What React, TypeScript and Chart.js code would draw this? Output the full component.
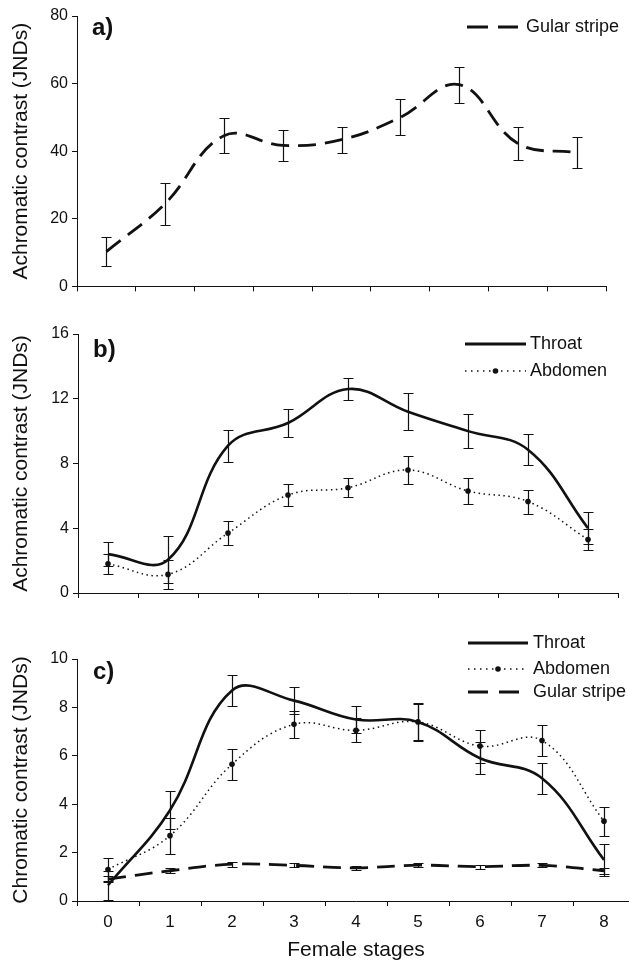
import React, { useEffect, useRef } from 'react';
import { Chart, registerables } from 'chart.js';

Chart.register(...registerables);

// ---------- data ----------
const stages = ['0', '1', '2', '3', '4', '5', '6', '7', '8'];

// a) achromatic contrast, gular stripe
const gularAchroMean = [10.3, 24.5, 44.6, 41.7, 43.4, 50.0, 59.7, 42.3, 39.6];
const gularAchroErr = [4.2, 6.2, 5.2, 4.7, 3.9, 5.3, 5.3, 4.9, 4.7];

// b) achromatic contrast, throat & abdomen
const throatAchroMean = [2.4, 2.05, 9.1, 10.5, 12.6, 11.2, 10.0, 8.85, 4.0];
const throatAchroErr = [0.75, 1.45, 1.0, 0.87, 0.7, 1.15, 1.05, 0.97, 1.0];
const abdomenAchroMean = [1.8, 1.15, 3.7, 6.05, 6.5, 7.6, 6.3, 5.65, 3.3];
const abdomenAchroErr = [0.6, 0.9, 0.75, 0.7, 0.58, 0.85, 0.78, 0.74, 0.65];

// c) chromatic contrast, throat, abdomen & gular stripe
const throatChromMean = [0.65, 3.75, 8.7, 8.28, 7.5, 7.4, 5.9, 5.07, 1.7];
const throatChromErr = [0.6, 0.78, 0.65, 0.57, 0.55, 0.8, 0.65, 0.64, 0.67];
const abdomenChromMean = [1.3, 2.7, 5.65, 7.3, 7.05, 7.4, 6.4, 6.63, 3.3];
const abdomenChromErr = [0.48, 0.74, 0.63, 0.56, 0.5, 0.75, 0.68, 0.65, 0.6];
const gularChromMean = [0.9, 1.25, 1.52, 1.47, 1.37, 1.48, 1.42, 1.47, 1.25];
const gularChromErr = [0.13, 0.1, 0.1, 0.08, 0.07, 0.09, 0.08, 0.08, 0.12];

const FONT = '"Liberation Sans", Arial, Helvetica, sans-serif';
const INK = '#111';

// ---------- plugins ----------
const errorBarPlugin = {
  id: 'errorBars',
  afterDatasetsDraw(chart: any) {
    const { ctx, chartArea, scales } = chart;
    const xs = scales.x;
    const ys = scales.y;
    ctx.save();
    ctx.beginPath();
    ctx.rect(chartArea.left, chartArea.top - 3, chartArea.right - chartArea.left, chartArea.bottom - chartArea.top + 3);
    ctx.clip();
    ctx.strokeStyle = INK;
    ctx.lineWidth = 1.2;
    ctx.setLineDash([]);
    chart.data.datasets.forEach((ds: any) => {
      const errs = ds.errors;
      if (!errs) return;
      ds.data.forEach((v: number, i: number) => {
        const px = Math.round(xs.getPixelForValue(i)) + 0.5;
        const top = Math.round(ys.getPixelForValue(v + errs[i])) + 0.5;
        const bot = Math.round(ys.getPixelForValue(v - errs[i])) + 0.5;
        ctx.beginPath();
        ctx.moveTo(px, top);
        ctx.lineTo(px, bot);
        ctx.moveTo(px - 5, top);
        ctx.lineTo(px + 5, top);
        ctx.moveTo(px - 5, bot);
        ctx.lineTo(px + 5, bot);
        ctx.stroke();
      });
    });
    ctx.restore();
  },
};

const legendPlugin = {
  id: 'customLegend',
  afterDraw(chart: any, _args: any, opts: any) {
    if (!opts || !opts.items) return;
    const { ctx } = chart;
    ctx.save();
    ctx.font = `18px ${FONT}`;
    ctx.fillStyle = INK;
    ctx.textBaseline = 'middle';
    ctx.textAlign = 'left';
    opts.items.forEach((it: any) => {
      const ds = chart.data.datasets[it.index];
      ctx.strokeStyle = INK;
      ctx.lineWidth = it.width;
      ctx.setLineDash(it.dash || []);
      ctx.beginPath();
      ctx.moveTo(opts.x0, it.y);
      ctx.lineTo(opts.x1, it.y);
      ctx.stroke();
      ctx.setLineDash([]);
      if (it.point) {
        ctx.beginPath();
        ctx.arc((opts.x0 + opts.x1) / 2, it.y, 2.8, 0, Math.PI * 2);
        ctx.fill();
      }
      ctx.fillText(ds.label, opts.textX, it.y);
    });
    ctx.restore();
  },
};

const panelLabelPlugin = {
  id: 'panelLabel',
  afterDraw(chart: any, _args: any, opts: any) {
    if (!opts || !opts.text) return;
    const { ctx } = chart;
    ctx.save();
    ctx.font = `bold 24px ${FONT}`;
    ctx.fillStyle = INK;
    ctx.textBaseline = 'middle';
    ctx.textAlign = 'left';
    ctx.fillText(opts.text, opts.x, opts.y);
    ctx.restore();
  },
};

// ---------- dataset factories ----------
const solid = (label: string, data: number[], errors: number[]) => ({
  label, data, errors,
  borderColor: INK, borderWidth: 2.6, pointRadius: 0, tension: 0.4, fill: false,
});
const dotted = (label: string, data: number[], errors: number[]) => ({
  label, data, errors,
  borderColor: INK, borderWidth: 1.5, borderDash: [1.5, 3.5], tension: 0.4, fill: false,
  pointRadius: 2.8, pointBackgroundColor: INK, pointBorderWidth: 0,
});
const dashed = (label: string, data: number[], errors: number[]) => ({
  label, data, errors,
  borderColor: INK, borderWidth: 2.8, borderDash: [18, 9], pointRadius: 0, tension: 0.4, fill: false,
});

function buildOptions(cfg: any) {
  return {
    responsive: false,
    animation: false,
    events: [],
    layout: { padding: { top: cfg.padTop, right: cfg.padRight, left: 0, bottom: 0 } },
    plugins: {
      legend: { display: false },
      tooltip: { enabled: false },
      customLegend: cfg.legend,
      panelLabel: cfg.label,
    },
    scales: {
      x: {
        type: 'category',
        offset: true,
        grid: { offset: true, drawOnChartArea: false, drawTicks: true, tickLength: 5, color: INK, lineWidth: 1 },
        border: { display: true, color: INK, width: 1 },
        ticks: {
          color: cfg.showX ? INK : 'rgba(0,0,0,0)',
          font: { family: FONT, size: 17 },
          padding: 6,
          maxRotation: 0,
          autoSkip: false,
        },
        title: {
          display: !!cfg.xTitle,
          text: cfg.xTitle || '',
          color: INK,
          font: { family: FONT, size: 21 },
          padding: { top: 0, bottom: 0 },
        },
        afterFit: (s: any) => { s.height = cfg.xHeight; },
      },
      y: {
        min: 0,
        max: cfg.yMax,
        ticks: {
          stepSize: cfg.yStep,
          color: INK,
          font: { family: FONT, size: 16 },
          padding: 4,
        },
        grid: { drawOnChartArea: false, drawTicks: true, tickLength: 5, color: INK, lineWidth: 1 },
        border: { display: true, color: INK, width: 1 },
        title: {
          display: true,
          text: cfg.yTitle,
          color: INK,
          font: { family: FONT, size: 21 },
          padding: { top: 9, bottom: 0 },
        },
        afterFit: (s: any) => { s.width = cfg.yWidth; },
      },
    },
  };
}

function Panel(props: { top: number; width: number; height: number; datasets: any[]; cfg: any }) {
  const ref = useRef<HTMLCanvasElement | null>(null);
  useEffect(() => {
    if (!ref.current) return;
    const chart = new Chart(ref.current, {
      type: 'line',
      data: { labels: stages, datasets: props.datasets },
      options: buildOptions(props.cfg) as any,
      plugins: [errorBarPlugin, legendPlugin, panelLabelPlugin],
    });
    return () => chart.destroy();
  }, []);
  return (
    <canvas
      ref={ref}
      width={props.width}
      height={props.height}
      style={{ position: 'absolute', left: 0, top: props.top, width: props.width, height: props.height }}
    />
  );
}

export default function App() {
  const dsA = [dashed('Gular stripe', gularAchroMean, gularAchroErr)];
  const dsB = [
    solid('Throat', throatAchroMean, throatAchroErr),
    dotted('Abdomen', abdomenAchroMean, abdomenAchroErr),
  ];
  const dsC = [
    solid('Throat', throatChromMean, throatChromErr),
    dotted('Abdomen', abdomenChromMean, abdomenChromErr),
    dashed('Gular stripe', gularChromMean, gularChromErr),
  ];

  const cfgA = {
    padTop: 16, padRight: 23, xHeight: 13, yWidth: 77, yMax: 80, yStep: 20,
    yTitle: 'Achromatic contrast (JNDs)', showX: false,
    legend: { x0: 467, x1: 518, textX: 526, items: [{ index: 0, y: 27, width: 3, dash: [21, 10] }] },
    label: { text: 'a)', x: 92, y: 28 },
  };
  const cfgB = {
    padTop: 34, padRight: 11, xHeight: 17, yWidth: 78, yMax: 16, yStep: 4,
    yTitle: 'Achromatic contrast (JNDs)', showX: false,
    legend: {
      x0: 465, x1: 526, textX: 530,
      items: [
        { index: 0, y: 44, width: 3 },
        { index: 1, y: 71, width: 1.5, dash: [1.5, 4.5], point: true },
      ],
    },
    label: { text: 'b)', x: 93, y: 50 },
  };
  const cfgC = {
    padTop: 49, padRight: 5, xHeight: 62, yWidth: 77, yMax: 10, yStep: 2,
    yTitle: 'Chromatic contrast (JNDs)', showX: true, xTitle: 'Female stages',
    legend: {
      x0: 468, x1: 528, textX: 533,
      items: [
        { index: 0, y: 33, width: 3 },
        { index: 1, y: 59, width: 1.5, dash: [1.5, 4.5], point: true },
        { index: 2, y: 82, width: 3, dash: [20, 11] },
      ],
    },
    label: { text: 'c)', x: 93, y: 62 },
  };

  return (
    <div style={{ position: 'absolute', left: 0, top: 0, width: 629, height: 963, overflow: 'hidden', background: '#fff' }}>
      <Panel top={0} width={629} height={300} datasets={dsA} cfg={cfgA} />
      <Panel top={300} width={629} height={310} datasets={dsB} cfg={cfgB} />
      <Panel top={610} width={640} height={353} datasets={dsC} cfg={cfgC} />
    </div>
  );
}
